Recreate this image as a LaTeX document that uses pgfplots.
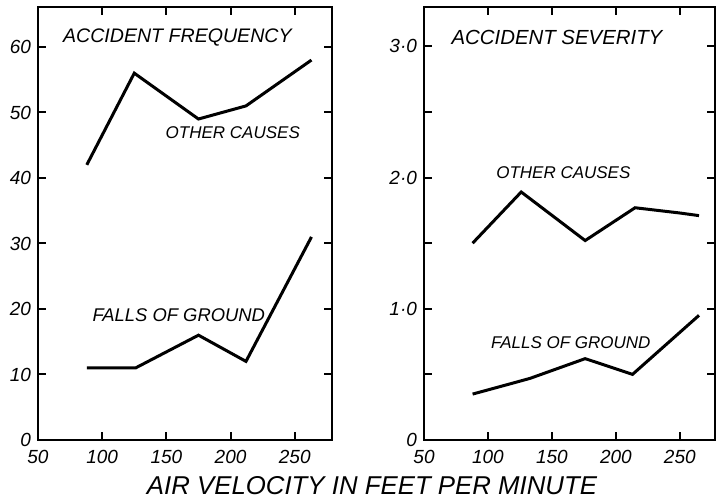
\documentclass[border=0pt]{standalone}
\usepackage{fontspec}
\setmainfont{Liberation Sans}
\usepackage{pgfplots}
\pgfplotsset{compat=1.18}
\begin{document}
\begin{tikzpicture}
\useasboundingbox (0pt,0pt) rectangle (358.5pt,251pt);
\pgfplotsset{
  common/.style={
    scale only axis,
    axis line style={line width=1pt},
    tick style={line width=1pt,black},
    major tick length=4pt,
    tick align=inside,
    xmin=50,
    xtick={50,100,150,200,250},
    ymin=0,
    /pgf/number format/assume math mode=true,
    tick label style={font=\itshape\fontsize{9.5}{10}\selectfont},
    xticklabel style={yshift=-1.5pt},
    yticklabel style={xshift=0pt},
    every axis plot/.append style={line width=1.5pt,black,line join=miter},
  }
}
\begin{axis}[common,
  at={(19pt,31pt)}, anchor=south west,
  width=147pt, height=216.5pt,
  xmax=279, ymax=66.1,
  ytick={0,10,20,30,40,50,60},
]
\addplot[mark=none] coordinates {(88,42) (125,56) (175,49) (212,51) (263,58)};
\addplot[mark=none] coordinates {(88,11) (126,11) (175,16) (212,12) (263,31)};
\node[anchor=west,font=\itshape\fontsize{9.8}{11}\selectfont] at (axis cs:64,61.4) {ACCIDENT FREQUENCY};
\node[anchor=west,font=\itshape\fontsize{8.5}{9}\selectfont] at (axis cs:144,46.9) {OTHER CAUSES};
\node[anchor=west,font=\itshape\fontsize{9.2}{10}\selectfont] at (axis cs:87,19.1) {FALLS OF GROUND};
\end{axis}
\begin{axis}[common,
  at={(212pt,31pt)}, anchor=south west,
  width=145.5pt, height=216.5pt,
  xmax=277.5, ymax=3.3,
  ytick={0,0.5,1,1.5,2,2.5,3},
  yticklabels={0,,1·0,,2·0,,3·0},
]
\addplot[mark=none] coordinates {(88,1.50) (126,1.89) (176,1.52) (215,1.77) (250,1.73) (265,1.71)};
\addplot[mark=none] coordinates {(88,0.35) (120,0.435) (133,0.47) (176,0.62) (213,0.50) (265,0.95)};
\node[anchor=west,font=\itshape\fontsize{10.2}{11}\selectfont] at (axis cs:66,3.07) {ACCIDENT SEVERITY};
\node[anchor=west,font=\itshape\fontsize{8.5}{9}\selectfont] at (axis cs:101,2.04) {OTHER CAUSES};
\node[anchor=west,font=\itshape\fontsize{8.5}{9}\selectfont] at (axis cs:97,0.74) {FALLS OF GROUND};
\end{axis}
\node[font=\itshape\fontsize{12.9}{14}\selectfont] at (186pt,8pt) {AIR VELOCITY IN FEET PER MINUTE};
\end{tikzpicture}
\end{document}
